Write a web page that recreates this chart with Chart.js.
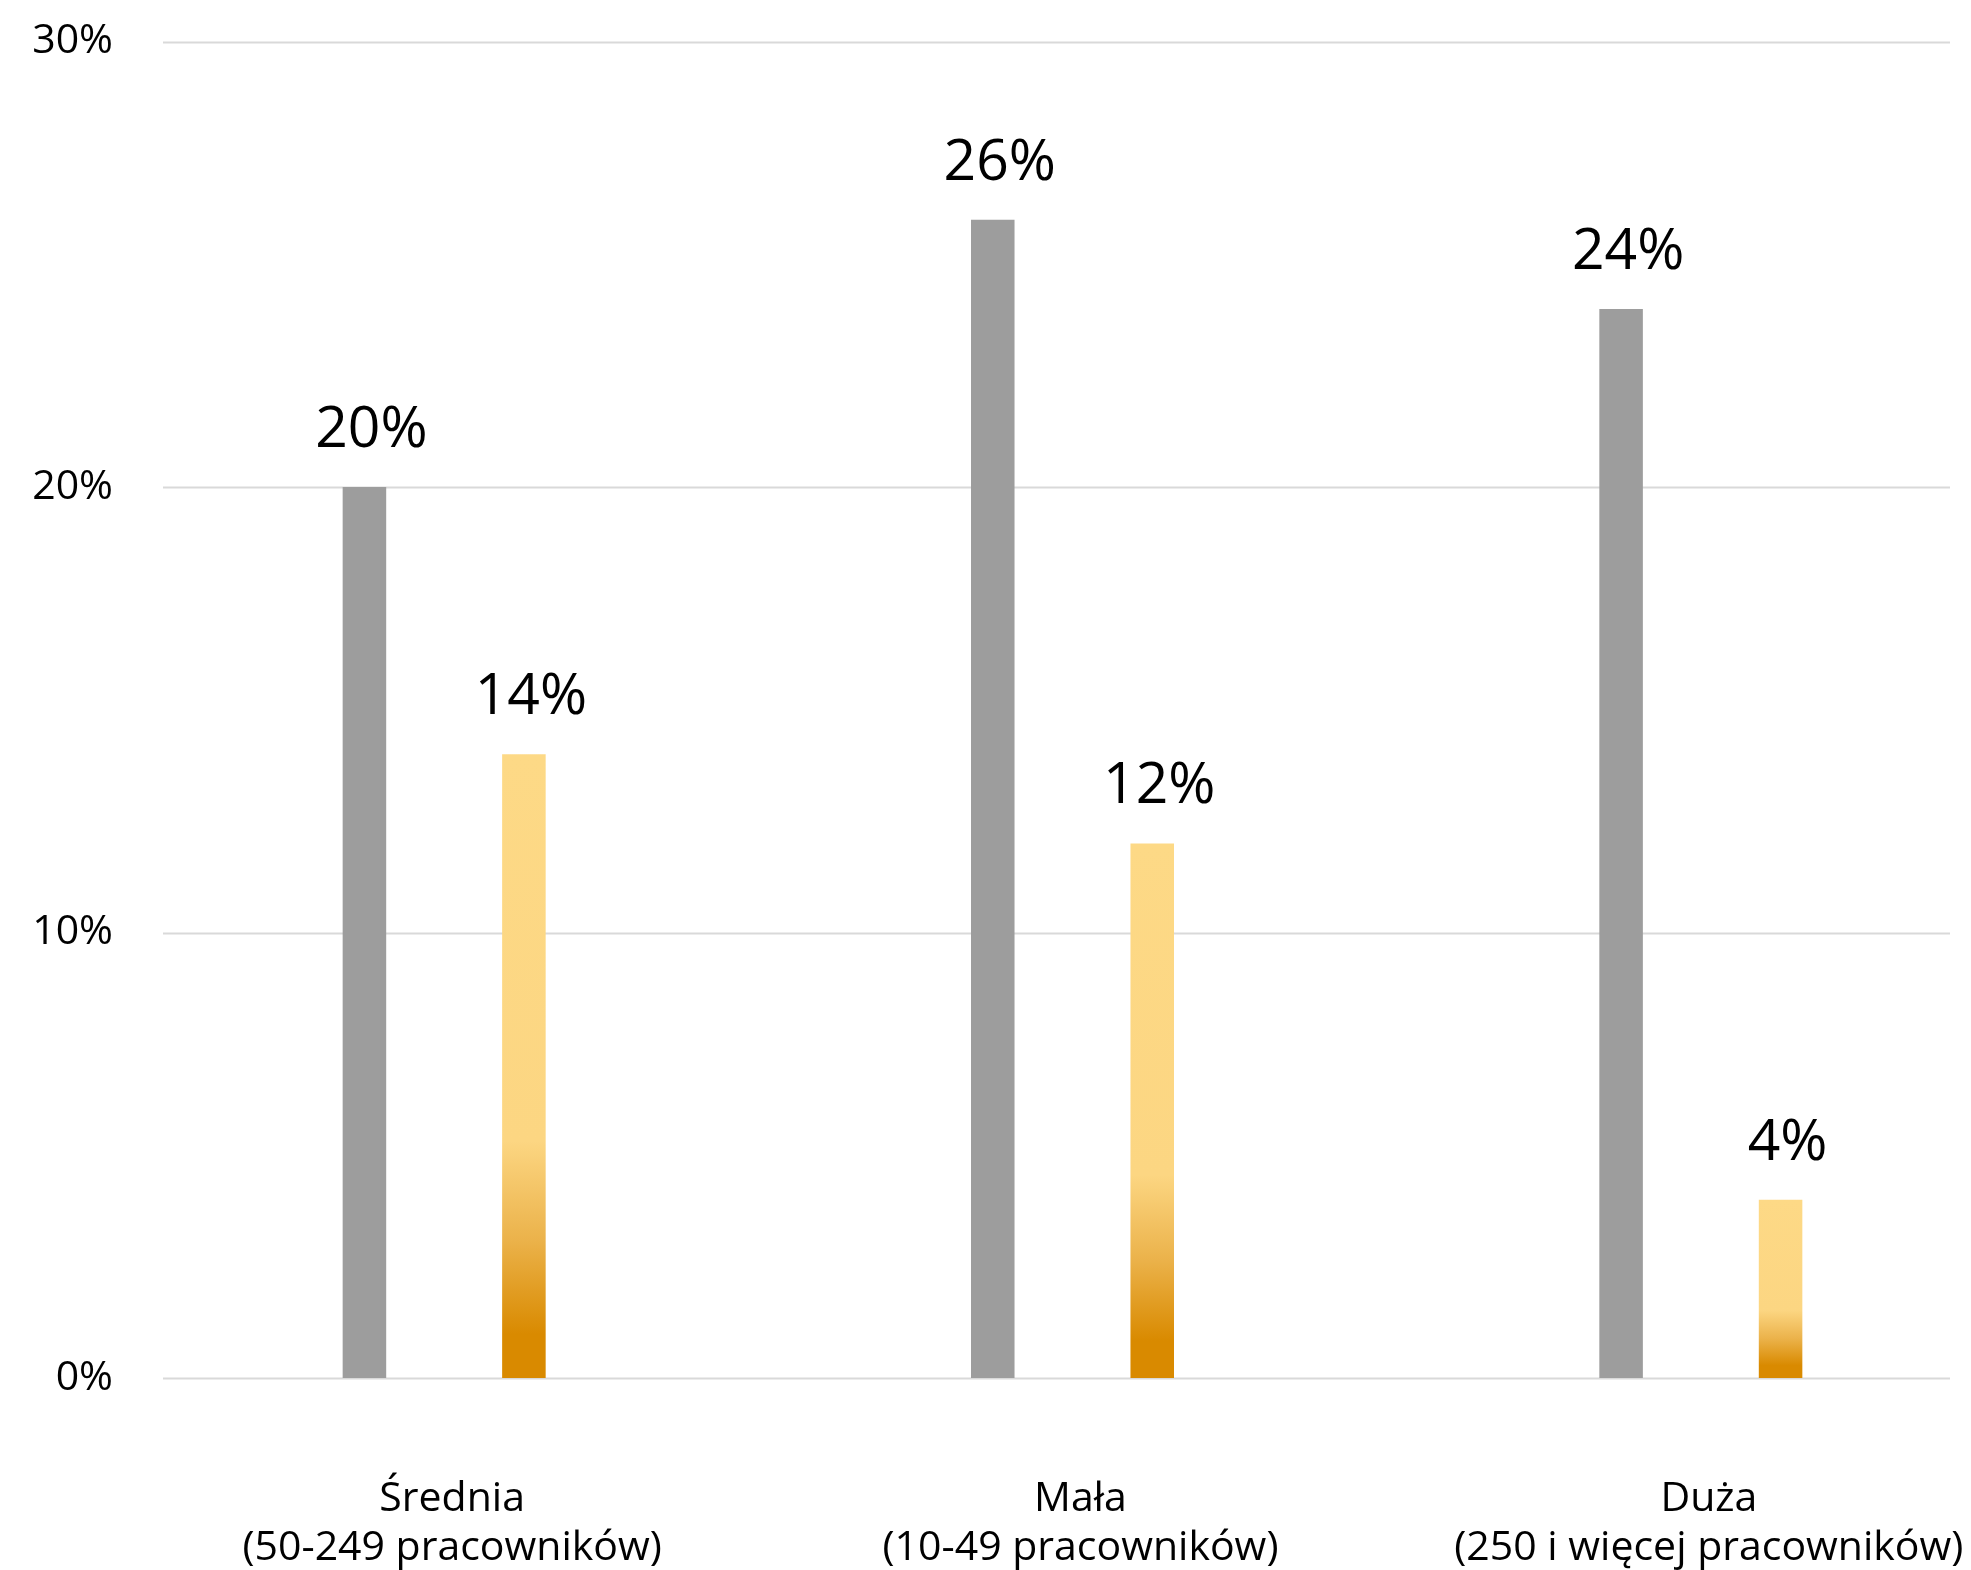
<!DOCTYPE html>
<html lang="pl">
<head>
<meta charset="utf-8">
<script src="https://cdn.jsdelivr.net/npm/chart.js@4"></script>
<style>
  html, body { margin: 0; padding: 0; background: #fff; overflow: hidden; }
  #wrap { width: 1971px; height: 1570px; overflow: hidden; }
</style>
</head>
<body>
<div id="wrap"><canvas id="chart" width="2050" height="1570"></canvas></div>
<script>
const categories = [
  ['Średnia', '(50-249 pracowników)'],
  ['Mała', '(10-49 pracowników)'],
  ['Duża', '(250 i więcej pracowników)']
];
const seriesGray = [20, 26, 24];
const seriesGold = [14, 12, 4];
const yTicks = [0, 10, 20, 30];

const FONT = '"Open Sans", "Noto Sans", sans-serif';

// złoty gradient liczony względem wysokości słupka
function goldGradient(context) {
  const chart = context.chart;
  const y = chart.scales.y;
  if (!chart.chartArea || !y) return '#FDD986';
  const top = y.getPixelForValue(context.raw);
  const bottom = y.getPixelForValue(0);
  if (!isFinite(top) || bottom - top < 1) return '#D98A00';
  const g = chart.ctx.createLinearGradient(0, top, 0, bottom);
  g.addColorStop(0, '#FDD986');
  g.addColorStop(0.62, '#FCD682');
  g.addColorStop(0.78, '#EBB24A');
  g.addColorStop(0.93, '#D98A00');
  g.addColorStop(1, '#D98A00');
  return g;
}

const gridLines = {
  id: 'gridLines',
  beforeDatasetsDraw(chart) {
    const { ctx, scales: { y } } = chart;
    ctx.save();
    ctx.strokeStyle = '#D9D9D9';
    ctx.lineWidth = 2;
    y.ticks.forEach(t => {
      const py = Math.round(y.getPixelForValue(t.value)) + 0.5;
      ctx.beginPath();
      ctx.moveTo(163, py);
      ctx.lineTo(1950, py);
      ctx.stroke();
    });
    ctx.restore();
  }
};

const valueLabels = {
  id: 'valueLabels',
  afterDatasetsDraw(chart) {
    const { ctx } = chart;
    ctx.save();
    ctx.font = '57px ' + FONT;
    ctx.fillStyle = '#000';
    ctx.textAlign = 'center';
    ctx.textBaseline = 'alphabetic';
    chart.data.datasets.forEach((ds, i) => {
      chart.getDatasetMeta(i).data.forEach((bar, j) => {
        ctx.fillText(ds.data[j] + '%', bar.x + 7, bar.y - 40);
      });
    });
    ctx.restore();
  }
};

new Chart(document.getElementById('chart'), {
  type: 'bar',
  data: {
    labels: categories,
    datasets: [
      {
        label: 'Seria 1',
        data: seriesGray,
        backgroundColor: '#9D9D9D',
        barPercentage: 0.273,
        categoryPercentage: 0.5076
      },
      {
        label: 'Seria 2',
        data: seriesGold,
        backgroundColor: goldGradient,
        barPercentage: 0.273,
        categoryPercentage: 0.5076
      }
    ]
  },
  options: {
    responsive: false,
    animation: false,
    layout: { padding: { top: 39, right: 35, left: 0, bottom: 0 } },
    plugins: {
      legend: { display: false },
      tooltip: { enabled: false }
    },
    scales: {
      x: {
        offset: true,
        grid: { display: false, drawTicks: false },
        border: { display: false },
        ticks: {
          color: '#000',
          padding: 97,
          labelOffset: 8,
          maxRotation: 0,
          autoSkip: false,
          font: { family: FONT, size: 41, lineHeight: 1.2 }
        },
        afterFit(scale) {
          scale.height = 192;
          scale.paddingLeft = 0;
          scale.paddingRight = 0;
        }
      },
      y: {
        min: 0,
        max: 30,
        afterBuildTicks(scale) { scale.ticks = yTicks.map(v => ({ value: v })); },
        grid: { display: false, drawTicks: false },
        border: { display: false },
        ticks: {
          color: '#000',
          padding: 17,
          font: { family: FONT, size: 41 },
          callback: v => v + '%'
        },
        afterFit(scale) { scale.width = 130; }
      }
    }
  },
  plugins: [gridLines, valueLabels]
});
</script>
</body>
</html>
